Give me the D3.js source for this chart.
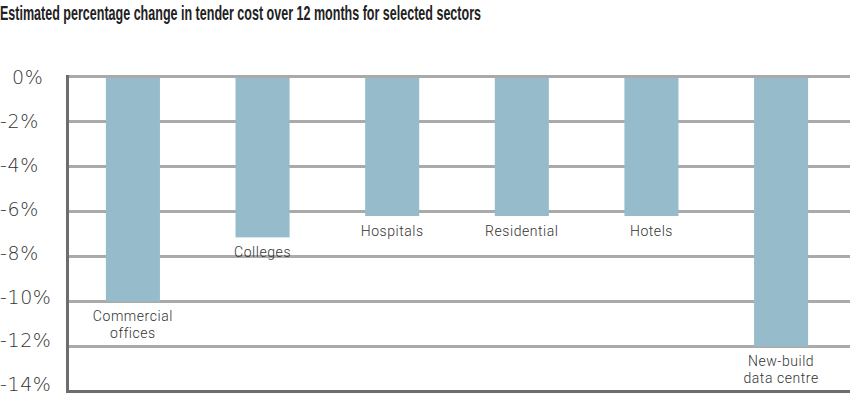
<!DOCTYPE html>
<html><head><meta charset="utf-8">
<script src="https://cdn.jsdelivr.net/npm/d3@7"></script>
<style>body{margin:0;background:#fff}svg{display:block}</style>
</head><body>
<svg id="c" width="850" height="395"></svg>
<script>
const title = "Estimated percentage change in tender cost over 12 months for selected sectors";
const categories = ["Commercial offices","Colleges","Hospitals","Residential","Hotels","New-build data centre"];
const labelLines = [["Commercial","offices"],["Colleges"],["Hospitals"],["Residential"],["Hotels"],["New-build","data centre"]];
const values = [-10, -7.15, -6.2, -6.2, -6.2, -12];
const tickValues = [0,-2,-4,-6,-8,-10,-12,-14];
const tickLabels = ["0%","-2%","-4%","-6%","-8%","-10%","-12%","-14%"];

const svg = d3.select("#c");
const y = d3.scaleLinear().domain([0,-14]).range([76.5,391.5]);
const yLab = d3.scaleLinear().domain([0,-14]).range([77,384]);
const x = d3.scaleBand().domain(categories).range([67,847]).paddingInner(0.583).paddingOuter(0.3);

svg.append("text").attr("x",0).attr("y",19.5)
  .attr("font-family","'Liberation Sans Narrow','Arial Narrow',sans-serif")
  .attr("font-size",21).attr("fill","#222").attr("font-weight","bold")
  .attr("textLength",481).attr("lengthAdjust","spacingAndGlyphs")
  .text(title);

// grid lines
svg.append("g").selectAll("line").data(tickValues.filter(v=>v>-14)).join("line")
  .attr("x1",67).attr("x2",850).attr("y1",d=>y(d)).attr("y2",d=>y(d))
  .attr("stroke","#aaaaaa").attr("stroke-width",3);

// bars
svg.append("g").selectAll("rect").data(values).join("rect")
  .attr("x",(d,i)=>x(categories[i])).attr("width",x.bandwidth())
  .attr("y",y(0)+1.5).attr("height",d=>y(d)-y(0)-1.5)
  .attr("fill","#96bccb");

// axes lines
svg.append("line").attr("x1",67.5).attr("x2",67.5).attr("y1",y(0)-1.5).attr("y2",y(-14)+1.5)
  .attr("stroke","#6d6d6d").attr("stroke-width",3);
svg.append("line").attr("x1",66).attr("x2",850).attr("y1",y(-14)).attr("y2",y(-14))
  .attr("stroke","#6d6d6d").attr("stroke-width",3);

// y tick labels (left aligned, as in the reference)
const yAxis = d3.axisLeft(yLab).tickValues(tickValues).tickFormat((d,i)=>tickLabels[i]).tickSize(0).tickPadding(0);
const ga = svg.append("g").call(yAxis);
ga.select(".domain").remove();
ga.selectAll("text").attr("text-anchor","start")
  .attr("x",d=> d===0 ? 12 : 0)
  .attr("font-family","'DejaVu Sans', sans-serif").attr("font-weight",200)
  .attr("font-size",19).attr("fill","#333").attr("dy","0.36em")
  .attr("letter-spacing",0.6);

// category labels: one text per line
const lg = svg.append("g");
values.forEach((v,i)=>{
  const cx = x(categories[i]) + x.bandwidth()/2;
  labelLines[i].forEach((ln,j)=>{
    lg.append("text").attr("text-anchor","middle")
      .attr("font-family","Roboto, 'Liberation Sans', sans-serif").attr("font-weight",300)
      .attr("font-size",14).attr("fill","#333").attr("letter-spacing",0.55)
      .attr("x",cx).attr("y",y(v)+19.5+j*16.5).text(ln);
  });
});
</script>
</body></html>
